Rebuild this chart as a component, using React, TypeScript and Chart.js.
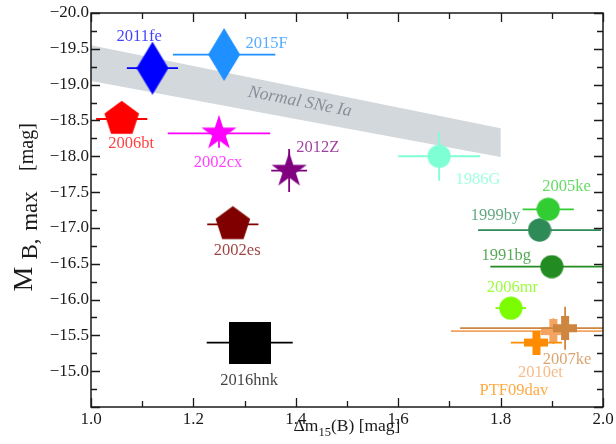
import React, { useEffect, useRef } from 'react';
import { Chart, registerables } from 'chart.js';

Chart.register(...registerables);

// ---- data ----
const names = ['2011fe', '2015F', '2006bt', '2002cx', '2012Z', '2002es', '2016hnk', '1986G', '2005ke', '1999by', '1991bg', '2006mr', '2007ke', 'PTF09dav', '2010et'];
const dm15 = [1.12, 1.26, 1.06, 1.25, 1.387, 1.277, 1.31, 1.68, 1.893, 1.876, 1.90, 1.82, 1.926, 1.87, 1.903];
const mbMax = [-19.23, -19.42, -18.52, -18.32, -17.8, -17.05, -15.40, -18.0, -17.26, -16.97, -16.46, -15.88, -15.60, -15.40, -15.56];
const dm15Err = [0.05, 0.10, 0.05, 0.10, 0.035, 0.05, 0.084, 0.08, 0.05, 0.12, 0.12, 0.03, 0.205, 0.05, 0.2];
const mbErr = [0.2, 0.2, 0.1, 0.2, 0.3, 0.1, 0.1, 0.34, 0.1, 0.16, 0.1, 0.1, 0.3, 0.1, 0.18];
const colors = ['#0000ff', '#1e90ff', '#ff0000', '#ff00ff', '#800080', '#800000', '#000000', '#7fffd4', '#32cd32', '#2e8b57', '#228b22', '#7cfc00', '#cd853f', '#ff8c00', '#f4a460'];
const markers = ['diamond', 'diamond', 'pentagon', 'star', 'star', 'pentagon', 'square', 'circle', 'circle', 'circle', 'circle', 'circle', 'plus', 'plus', 'plus'];
const labelX = [1.094, 1.343, 1.0785, 1.248, 1.443, 1.2855, 1.309, 1.756, 1.929, 1.790, 1.811, 1.823, 1.930, 1.826, 1.8776];
const labelY = [-19.666, -19.57, -18.17, -17.907, -18.116, -16.68, -14.871, -17.68, -17.576, -17.174, -16.61, -16.167, -15.163, -14.734, -14.98];

const bandX = [1.0, 1.8];
const bandTop = [-19.55, -18.39];
const bandBottom = [-19.05, -17.99];
const bandText = 'Normal SNe Ia';
const bandTextPos = [1.408, -18.76];

const xMajor = [1.0, 1.2, 1.4, 1.6, 1.8, 2.0];
const xMinor = [1.1, 1.3, 1.5, 1.7, 1.9];
const yMajor = [-20.0, -19.5, -19.0, -18.5, -18.0, -17.5, -17.0, -16.5, -16.0, -15.5, -15.0, -14.5];
const yMinor = [-19.75, -19.25, -18.75, -18.25, -17.75, -17.25, -16.75, -16.25, -15.75, -15.25, -14.75];

const SERIF = '"Liberation Serif", "DejaVu Serif", serif';

function markerCanvas(kind: string, color: string): HTMLCanvasElement {
  const c = document.createElement('canvas');
  let w = 0, h = 0;
  let pts: [number, number][] = [];
  if (kind === 'diamond') {
    w = 32; h = 53;
    pts = [[w / 2, 0], [w, h / 2], [w / 2, h], [0, h / 2]];
  } else if (kind === 'pentagon') {
    const R = 18.2;
    w = 38; h = 38;
    for (let k = 0; k < 5; k++) {
      const a = -Math.PI / 2 + (k * 2 * Math.PI) / 5;
      pts.push([w / 2 + R * Math.cos(a), h / 2 + R * Math.sin(a)]);
    }
  } else if (kind === 'star') {
    const R = 18.5, r = R * 0.382;
    w = 40; h = 40;
    for (let k = 0; k < 10; k++) {
      const a = -Math.PI / 2 + (k * Math.PI) / 5;
      const rr = k % 2 === 0 ? R : r;
      pts.push([w / 2 + rr * Math.cos(a), h / 2 + rr * Math.sin(a)]);
    }
  } else if (kind === 'square') {
    w = 42; h = 42;
    pts = [[0, 0], [w, 0], [w, h], [0, h]];
  } else if (kind === 'plus') {
    const s = 24, t = 8;
    w = s; h = s;
    const a = (s - t) / 2, b = (s + t) / 2;
    pts = [[a, 0], [b, 0], [b, a], [s, a], [s, b], [b, b], [b, s], [a, s], [a, b], [0, b], [0, a], [a, a]];
  }
  if (kind === 'circle') {
    w = 24; h = 24;
  }
  c.width = w; c.height = h;
  const ctx = c.getContext('2d')!;
  ctx.fillStyle = color;
  ctx.beginPath();
  if (kind === 'circle') {
    ctx.arc(w / 2, h / 2, 11.6, 0, Math.PI * 2);
  } else {
    pts.forEach((p, i) => (i === 0 ? ctx.moveTo(p[0], p[1]) : ctx.lineTo(p[0], p[1])));
    ctx.closePath();
  }
  ctx.fill();
  return c;
}

const fmt = (v: number) => v.toFixed(1).replace('-', '\u2212');

export default function App() {
  const ref = useRef<HTMLCanvasElement>(null);

  useEffect(() => {
    document.body.style.margin = '0';
    const canvas = ref.current!;

    const bandPlugin = {
      id: 'band',
      beforeDatasetsDraw(chart: any) {
        const { ctx, chartArea, scales } = chart;
        const xs = scales.x, ys = scales.y;
        ctx.save();
        ctx.beginPath();
        ctx.rect(chartArea.left, chartArea.top, chartArea.right - chartArea.left, chartArea.bottom - chartArea.top);
        ctx.clip();
        ctx.fillStyle = '#d3d8dc';
        ctx.beginPath();
        ctx.moveTo(xs.getPixelForValue(bandX[0]), ys.getPixelForValue(bandTop[0]));
        ctx.lineTo(xs.getPixelForValue(bandX[1]), ys.getPixelForValue(bandTop[1]));
        ctx.lineTo(xs.getPixelForValue(bandX[1]), ys.getPixelForValue(bandBottom[1]));
        ctx.lineTo(xs.getPixelForValue(bandX[0]), ys.getPixelForValue(bandBottom[0]));
        ctx.closePath();
        ctx.fill();
        // rotated text
        const x0 = xs.getPixelForValue(bandX[0]), x1 = xs.getPixelForValue(bandX[1]);
        const y0 = ys.getPixelForValue(bandTop[0]), y1 = ys.getPixelForValue(bandTop[1]);
        const ang = Math.atan2(y1 - y0, x1 - x0) * 0.95;
        ctx.translate(xs.getPixelForValue(bandTextPos[0]), ys.getPixelForValue(bandTextPos[1]));
        ctx.rotate(ang);
        ctx.fillStyle = '#878f99';
        ctx.font = `italic 17.5px ${SERIF}`;
        ctx.textAlign = 'center';
        ctx.textBaseline = 'middle';
        ctx.fillText(bandText, 0, 0);
        ctx.restore();
      },
    };

    const errorPlugin = {
      id: 'errbars',
      beforeDatasetDraw(chart: any, args: any) {
        const i = args.index;
        const { ctx, chartArea, scales } = chart;
        const xs = scales.x, ys = scales.y;
        ctx.save();
        ctx.beginPath();
        ctx.rect(chartArea.left, chartArea.top, chartArea.right - chartArea.left, chartArea.bottom - chartArea.top);
        ctx.clip();
        ctx.strokeStyle = colors[i];
        ctx.lineWidth = 1.8;
        const px = xs.getPixelForValue(dm15[i]);
        const py = ys.getPixelForValue(mbMax[i]);
        ctx.beginPath();
        ctx.moveTo(xs.getPixelForValue(dm15[i] - dm15Err[i]), py);
        ctx.lineTo(xs.getPixelForValue(dm15[i] + dm15Err[i]), py);
        ctx.moveTo(px, ys.getPixelForValue(mbMax[i] - mbErr[i]));
        ctx.lineTo(px, ys.getPixelForValue(mbMax[i] + mbErr[i]));
        ctx.stroke();
        ctx.restore();
      },
    };

    const labelPlugin = {
      id: 'labels',
      afterDatasetsDraw(chart: any) {
        const { ctx, scales } = chart;
        ctx.save();
        ctx.font = `16.5px ${SERIF}`;
        ctx.textAlign = 'center';
        ctx.textBaseline = 'middle';
        ctx.globalAlpha = 0.75;
        names.forEach((n, i) => {
          ctx.fillStyle = colors[i];
          ctx.fillText(n, scales.x.getPixelForValue(labelX[i]), scales.y.getPixelForValue(labelY[i]));
        });
        ctx.restore();
      },
    };

    const framePlugin = {
      id: 'frame',
      afterDraw(chart: any) {
        const { ctx, chartArea, scales } = chart;
        const { left, right, top, bottom } = chartArea;
        ctx.save();
        ctx.strokeStyle = '#1a1a1a';
        ctx.lineWidth = 1.5;
        ctx.strokeRect(left, top, right - left, bottom - top);
        ctx.lineWidth = 1.3;
        ctx.beginPath();
        const xt = (vals: number[], len: number) => vals.forEach((v) => {
          const p = Math.round(scales.x.getPixelForValue(v)) + 0.5;
          ctx.moveTo(p, bottom); ctx.lineTo(p, bottom - len);
          ctx.moveTo(p, top); ctx.lineTo(p, top + len);
        });
        const yt = (vals: number[], len: number) => vals.forEach((v) => {
          const p = Math.round(scales.y.getPixelForValue(v)) + 0.5;
          ctx.moveTo(left, p); ctx.lineTo(left + len, p);
          ctx.moveTo(right, p); ctx.lineTo(right - len, p);
        });
        xt(xMajor, 9); xt(xMinor, 6);
        yt(yMajor, 9); yt(yMinor, 6);
        ctx.stroke();

        // x title
        ctx.fillStyle = '#1a1a1a';
        ctx.textBaseline = 'alphabetic';
        ctx.textAlign = 'left';
        const f1 = `17.5px ${SERIF}`, f2 = `12.5px ${SERIF}`;
        ctx.font = f1; const wA = ctx.measureText('\u0394m').width; const wC = ctx.measureText('(B) [mag]').width;
        ctx.font = f2; const wB = ctx.measureText('15').width;
        let sx = (left + right) / 2 - (wA + wB + wC) / 2;
        const by = 431;
        ctx.font = f1; ctx.fillText('\u0394m', sx, by); sx += wA;
        ctx.font = f2; ctx.fillText('15', sx, by + 5); sx += wB;
        ctx.font = f1; ctx.fillText('(B) [mag]', sx, by);

        // y title (rotated pieces)
        ctx.textAlign = 'center';
        const piece = (txt: string, font: string, bx: number, cy: number) => {
          ctx.save();
          ctx.translate(bx, cy);
          ctx.rotate(-Math.PI / 2);
          ctx.font = font;
          ctx.fillText(txt, 0, 0);
          ctx.restore();
        };
        piece('M', `28px ${SERIF}`, 32, 279);
        piece('B,', `23px ${SERIF}`, 37, 249);
        piece('max', `23px ${SERIF}`, 37, 211);
        piece('[mag]', `20px ${SERIF}`, 33, 147);
        ctx.restore();
      },
    };

    const chart = new Chart(canvas, {
      type: 'scatter',
      data: {
        datasets: names.map((n, i) => ({
          label: n,
          data: [{ x: dm15[i], y: mbMax[i] }],
          pointStyle: markerCanvas(markers[i], colors[i]) as any,
          pointRadius: 12,
          backgroundColor: colors[i],
          borderColor: colors[i],
        })),
      },
      options: {
        animation: false,
        responsive: false,
        events: [],
        layout: { padding: { left: 0, right: 13, top: 7, bottom: 0 } },
        plugins: { legend: { display: false }, tooltip: { enabled: false } },
        scales: {
          x: {
            type: 'linear',
            min: 1.0,
            max: 2.0,
            grid: { display: false, drawTicks: false },
            border: { display: false },
            afterFit: (s: any) => { s.height = 37; },
            ticks: {
              stepSize: 0.2,
              padding: 2,
              color: '#1a1a1a',
              font: { family: SERIF, size: 17 },
              callback: (v: any) => fmt(Number(v)),
            },
          },
          y: {
            type: 'linear',
            reverse: true,
            min: -20.0,
            max: -14.5,
            grid: { display: false, drawTicks: false },
            border: { display: false },
            afterFit: (s: any) => { s.width = 91; },
            ticks: {
              stepSize: 0.5,
              padding: 2,
              color: '#1a1a1a',
              font: { family: SERIF, size: 17 },
              callback: (v: any) => (Number(v) > -14.75 ? '' : fmt(Number(v))),
            },
          },
        },
      },
      plugins: [bandPlugin, errorPlugin, labelPlugin, framePlugin],
    });
    return () => chart.destroy();
  }, []);

  return (
    <div style={{ position: 'absolute', left: 0, top: 0, width: 616, height: 444 }}>
      <canvas ref={ref} width={616} height={444} />
    </div>
  );
}
